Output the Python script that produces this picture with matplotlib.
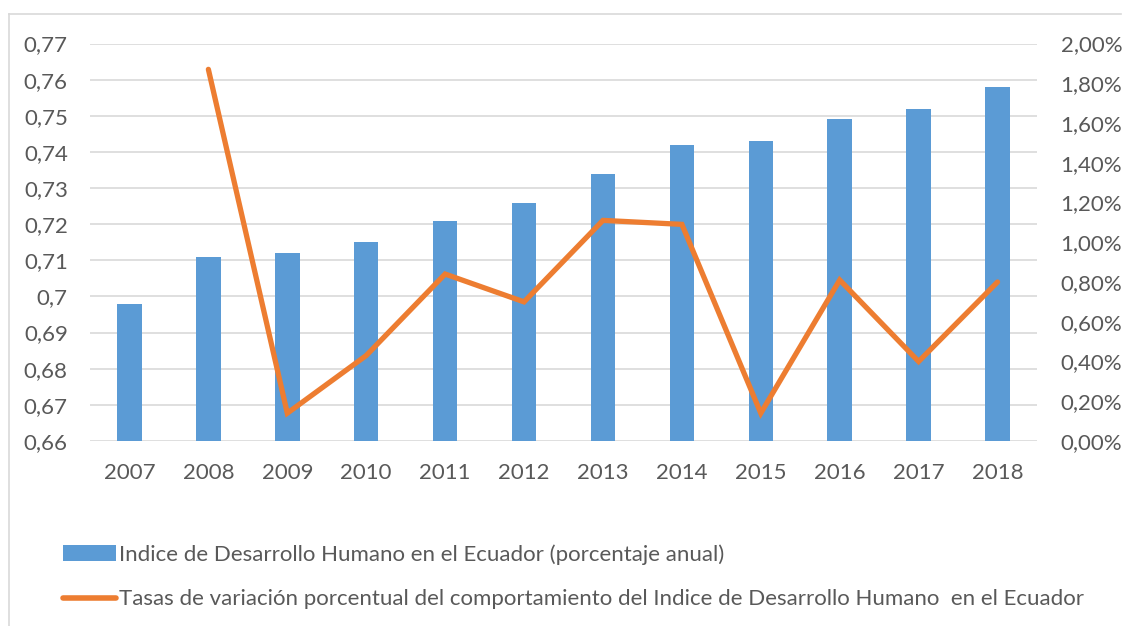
import matplotlib
matplotlib.use("Agg")
import matplotlib.pyplot as plt
from matplotlib.lines import Line2D
from matplotlib.patches import Patch
from matplotlib.ticker import FuncFormatter, MultipleLocator
import numpy as np

years = ["2007", "2008", "2009", "2010", "2011", "2012", "2013", "2014", "2015", "2016", "2017", "2018"]
idh = [0.698, 0.711, 0.712, 0.715, 0.721, 0.726, 0.734, 0.742, 0.743, 0.749, 0.752, 0.758]
var_years = ["2008", "2009", "2010", "2011", "2012", "2013", "2014", "2015", "2016", "2017", "2018"]
var_pct = [1.87, 0.14, 0.43, 0.84, 0.70, 1.11, 1.09, 0.14, 0.81, 0.40, 0.80]

label_bar = "Indice de Desarrollo Humano en el Ecuador (porcentaje anual)"
label_line = "Tasas de variación porcentual del comportamiento del Indice de Desarrollo Humano  en el Ecuador"

BLUE = "#5B9BD5"
ORANGE = "#ED7D31"
TXT = "#595959"
GRID = "#D9D9D9"

plt.rcParams['font.family'] = ['Lato', 'DejaVu Sans']
FS = 16

W, H = 1122, 626
fig = plt.figure(figsize=(W / 100, H / 100), dpi=100)

# outer frame (left & top visible)
fig.add_artist(Line2D([9 / W, 9 / W], [0, 1 - 14 / H], color=GRID, lw=1.2, transform=fig.transFigure))
fig.add_artist(Line2D([9 / W, 1121 / W], [1 - 14 / H, 1 - 14 / H], color=GRID, lw=1.2, transform=fig.transFigure))

left, right, top, bottom = 90, 1037, 43.5, 441
ax = fig.add_axes([left / W, 1 - bottom / H, (right - left) / W, (bottom - top) / H])
x = np.arange(len(years))
ax.bar(x, idh, width=0.31, color=BLUE, zorder=2)
ax.set_ylim(0.66, 0.77)
ax.set_xlim(-0.5, len(years) - 0.5)
ax.yaxis.set_major_locator(MultipleLocator(0.01))

def fmt_left(v, p):
    s = f"{v:.2f}".rstrip("0").rstrip(".")
    return s.replace(".", ",")

ax.yaxis.set_major_formatter(FuncFormatter(fmt_left))
ax.set_xticks(x)
ax.set_xticklabels(years)
ax.grid(axis="y", color=GRID, lw=1.2, zorder=0)
ax.set_axisbelow(True)
for s in ax.spines.values():
    s.set_visible(False)
ax.tick_params(axis="both", length=0, colors=TXT, labelsize=FS)
ax.tick_params(axis="y", pad=16)
ax.tick_params(axis="x", pad=16)

ax2 = ax.twinx()
xi = [years.index(y) for y in var_years]
ax2.plot(xi, var_pct, color=ORANGE, lw=3.8, solid_capstyle="round", solid_joinstyle="miter", zorder=3)
ax2.set_ylim(0, 2.0)
ax2.yaxis.set_major_locator(MultipleLocator(0.2))
ax2.yaxis.set_major_formatter(FuncFormatter(lambda v, p: f"{v:.2f}".replace(".", ",") + "%"))
for s in ax2.spines.values():
    s.set_visible(False)
ax2.tick_params(axis="y", length=0, colors=TXT, labelsize=FS, pad=17)

handles = [Patch(facecolor=BLUE, edgecolor="none"),
           Line2D([0], [0], color=ORANGE, lw=4, solid_capstyle="round")]
leg = fig.legend(handles, [label_bar, label_line], loc="upper left",
                 bbox_to_anchor=(43 / W, 1 - 524 / H), frameon=False,
                 fontsize=FS, labelcolor=TXT, handlelength=2.4, handleheight=0.7,
                 handletextpad=0.12, labelspacing=1.12)

fig.savefig("out.png", dpi=100, facecolor="white")
